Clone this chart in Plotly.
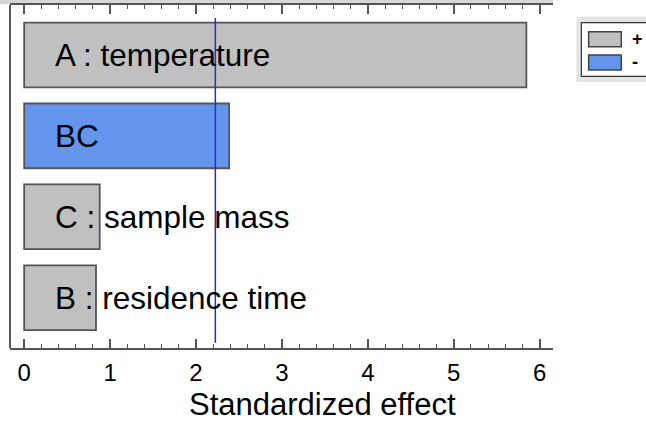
import plotly.graph_objects as go

# ---- data ----
factors = ["A : temperature", "BC", "C : sample mass", "B : residence time"]
effects = [5.845, 2.386, 0.879, 0.836]
signs = ["+", "-", "+", "+"]
critical_value = 2.225
x_ticks = [0, 1, 2, 3, 4, 5, 6]

GRAY = "#c0c0c0"
BLUE = "#6495ED"
sign_colors = {"+": GRAY, "-": BLUE}
FONT = "Liberation Sans, Arial, sans-serif"

fig = go.Figure()
fig.add_trace(go.Bar(
    x=effects, y=factors, orientation="h",
    marker=dict(color=[sign_colors[s] for s in signs],
                line=dict(color="#555555", width=1.8)),
    width=0.8, showlegend=False, hoverinfo="skip",
))
# empty helper trace so the top (mirrored) axis gets drawn
fig.add_trace(go.Scatter(x=[], y=[], xaxis="x2", yaxis="y",
                         showlegend=False, hoverinfo="skip"))

# bar labels
for f in factors:
    fig.add_annotation(x=0.33, y=f, xref="x", yref="y", text=f,
                       showarrow=False, xanchor="left", yanchor="middle",
                       font=dict(family=FONT, size=31.5, color="black"))

# reference line
fig.add_shape(type="line", xref="x", yref="paper",
              x0=critical_value, x1=critical_value, y0=0.015, y1=0.962,
              line=dict(color="#2a2ad8", width=1.5))

# left frame line
fig.add_shape(type="line", xref="paper", yref="paper",
              x0=0, x1=0, y0=0, y1=1,
              line=dict(color="#222222", width=1.5))

# top gray band
fig.add_shape(type="rect", xref="paper", yref="paper",
              x0=-0.02, x1=1.0, y0=1.002, y1=1.02,
              fillcolor="#d6d6d6", line=dict(width=0), layer="below")

# legend (drawn)
def px(x):
    return (x - 9.5) / 543.8

def py(y):
    return (348.3 - y) / 343.3

fig.add_shape(type="rect", xref="paper", yref="paper",
              x0=px(576.7), x1=px(660), y0=py(82), y1=py(16.7),
              fillcolor="#e4e4e4", line=dict(width=0))
fig.add_shape(type="rect", xref="paper", yref="paper",
              x0=px(581.7), x1=px(660), y0=py(76.5), y1=py(22.7),
              fillcolor="white", line=dict(color="#333333", width=1.2))
legend_items = [("+", GRAY, 31.7, 46.7), ("-", BLUE, 55, 70)]
for lab, col, y0, y1 in legend_items:
    fig.add_shape(type="rect", xref="paper", yref="paper",
                  x0=px(589), x1=px(621.7), y0=py(y1), y1=py(y0),
                  fillcolor=col, line=dict(color="#444444", width=1.5))
    fig.add_annotation(x=px(630), y=py((y0 + y1) / 2), xref="paper", yref="paper",
                       text="<b>%s</b>" % lab, showarrow=False,
                       xanchor="left", yanchor="middle",
                       font=dict(family=FONT, size=18, color="black"))

# x-axis title
fig.add_annotation(x=px(322), y=py(405), xref="paper", yref="paper",
                   text="Standardized effect", showarrow=False,
                   xanchor="center", yanchor="middle",
                   font=dict(family=FONT, size=31, color="black"))

axis_common = dict(
    range=[-0.165, 6.155], tickvals=x_ticks,
    ticks="inside", ticklen=9, tickwidth=1.5, tickcolor="#555555",
    minor=dict(dtick=0.2, tick0=0, ticks="inside", ticklen=4,
               tickwidth=1.2, tickcolor="#555555"),
    showline=True, linecolor="#555555", linewidth=1.8, mirror=False,
    showgrid=False, zeroline=False,
)
fig.update_layout(
    xaxis=dict(**axis_common, ticktext=[str(t) for t in x_ticks],
               tickfont=dict(family=FONT, size=24, color="black"),
               ticklabelstandoff=2),
    xaxis2=dict(**axis_common, overlaying="x", side="top", anchor="y",
                matches="x", showticklabels=False),
    yaxis=dict(categoryorder="array", categoryarray=factors,
               range=[3.621, -0.617], showticklabels=False, ticks="",
               showline=False, mirror=False, showgrid=False, zeroline=False),
    width=646, height=422,
    margin=dict(l=9.5, r=92.7, t=5, b=73.7, pad=0),
    paper_bgcolor="white", plot_bgcolor="white",
    bargap=0.2,
)
fig.write_html("out.html")
